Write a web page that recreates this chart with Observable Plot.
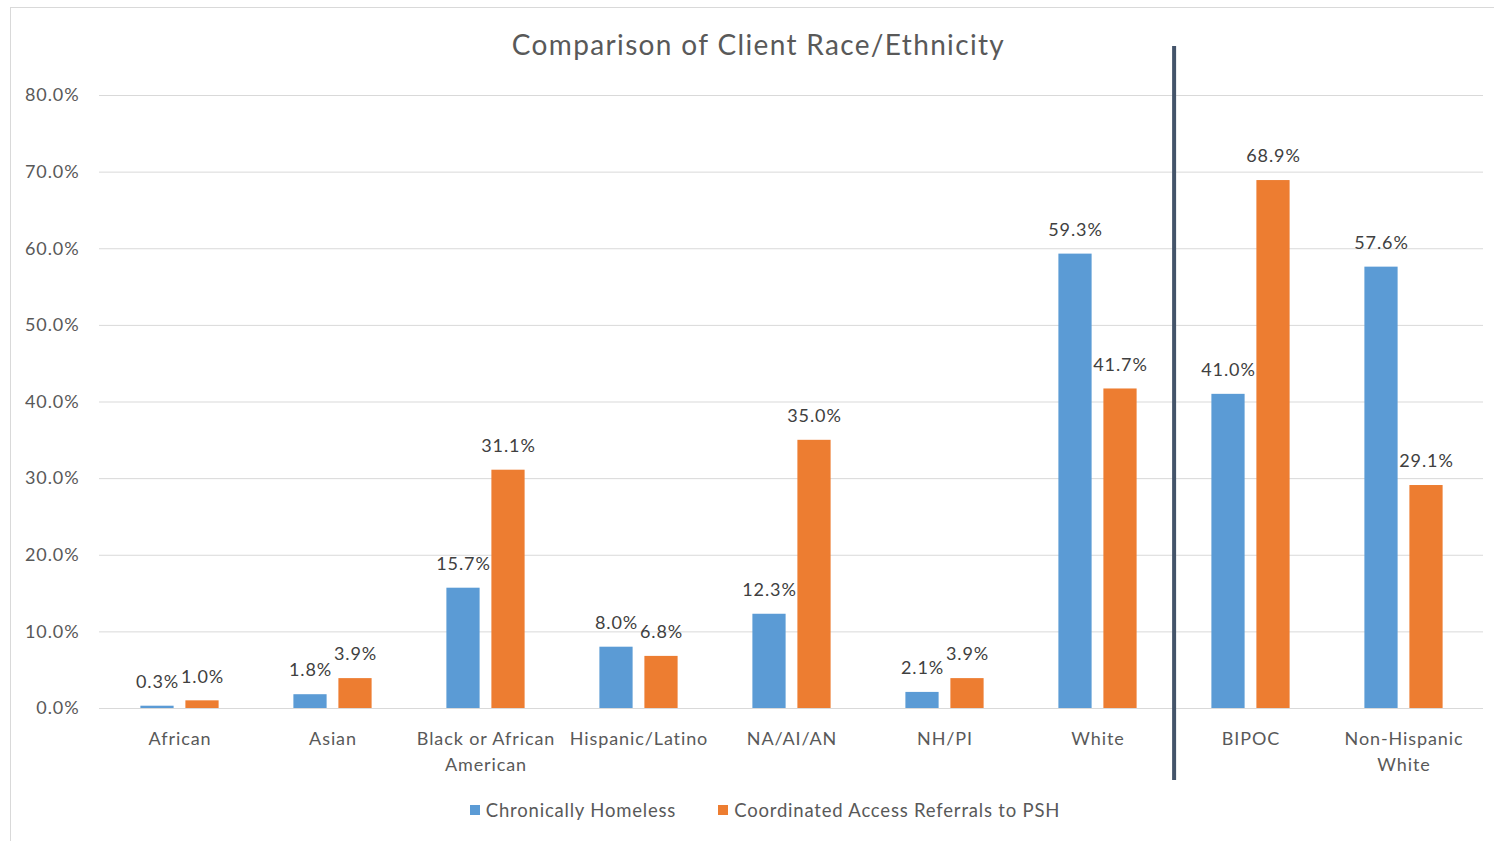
<!DOCTYPE html>
<html><head><meta charset="utf-8">
<script src="https://cdn.jsdelivr.net/npm/d3@7"></script>
<script src="https://cdn.jsdelivr.net/npm/@observablehq/plot@0.6"></script>
<style>
body{margin:0;background:#fff;font-family:Lato,sans-serif;}
#wrap{position:relative;width:1494px;height:841px;overflow:hidden;background:#fff}
#frame{position:absolute;left:10px;top:7px;width:1490px;height:840px;border:1px solid #d9d9d9;box-sizing:border-box}
#title{position:absolute;top:27px;left:0;width:1517px;text-align:center;font-size:28px;letter-spacing:1.35px;color:#595959;z-index:2}
#chart{position:absolute;left:0;top:0}
#chart svg text{letter-spacing:0.9px}
#legend{position:absolute;top:799px;left:0;width:1530px;display:flex;justify-content:center;gap:42px;font-size:18.5px;letter-spacing:0.8px;color:#595959}
#legend span.sw{display:inline-block;width:10px;height:10px;margin-right:6px;vertical-align:middle;position:relative;top:-2px}
</style></head>
<body>
<div id="wrap">
  <div id="frame"></div>
  <div id="chart"></div>
  <div id="title">Comparison of Client Race/Ethnicity</div>
  <div id="legend"></div>
</div>
<script>
const categories = ["African","Asian","Black or African American","Hispanic/Latino","NA/AI/AN","NH/PI","White","BIPOC","Non-Hispanic White"];
const tickLabels = ["African","Asian","Black or African\nAmerican","Hispanic/Latino","NA/AI/AN","NH/PI","White","BIPOC","Non-Hispanic\nWhite"];
const seriesNames = ["Chronically Homeless","Coordinated Access Referrals to PSH"];
const chronicallyHomeless = [0.003,0.018,0.157,0.080,0.123,0.021,0.593,0.410,0.576];
const referralsToPSH = [0.010,0.039,0.311,0.068,0.350,0.039,0.417,0.689,0.291];
const yTicks = [0,0.1,0.2,0.3,0.4,0.5,0.6,0.7,0.8];
const separatorBefore = "BIPOC";
const colors = ["#5b9bd5","#ed7d31"];

const W = 1494, H = 790, mL = 99, mR = 11, mT = 95, mB = 82;
const step = (W - mL - mR) / categories.length;
const barW = 34, off = 22.5;
const ins = (step - barW) / 2;
const fmt = d3.format(".1%");

const dataA = categories.map((c,i)=>({cat:c, value:chronicallyHomeless[i]}));
const dataB = categories.map((c,i)=>({cat:c, value:referralsToPSH[i]}));
const labelOf = new Map(categories.map((c,i)=>[c,tickLabels[i]]));

const chart = Plot.plot({
  width: W, height: H,
  marginLeft: mL, marginRight: mR, marginTop: mT, marginBottom: mB,
  style: {fontFamily: "Lato, sans-serif", color: "#595959", background: "transparent", overflow: "visible"},
  x: {domain: categories, padding: 0},
  y: {domain: [0, 0.8]},
  marks: [
    Plot.gridY(yTicks, {stroke: "#d9d9d9", strokeOpacity: 1, strokeWidth: 1}),
    Plot.axisY(yTicks, {tickSize: 0, tickPadding: 20, tickFormat: fmt, fontSize: 18, fill: "#595959", label: null}),
    Plot.axisX({tickSize: 0, tickPadding: 19, tickFormat: d => labelOf.get(d), fontSize: 18, lineHeight: 1.4, fill: "#595959", label: null}),
    Plot.barY(dataA, {x: "cat", y: "value", fill: colors[0], dx: -off, insetLeft: ins, insetRight: ins}),
    Plot.barY(dataB, {x: "cat", y: "value", fill: colors[1], dx: off, insetLeft: ins, insetRight: ins}),
    Plot.text(dataA, {x: "cat", y: "value", text: d => fmt(d.value), dx: -off, dy: -24, fontSize: 18, fill: "#404040"}),
    Plot.text(dataB, {x: "cat", y: "value", text: d => fmt(d.value), dx: off, dy: -24, fontSize: 18, fill: "#404040"}),
    Plot.ruleX([separatorBefore], {x: d => d, dx: -step/2, stroke: "#44546a", strokeWidth: 4, insetTop: -49, insetBottom: -72})
  ]
});
document.getElementById("chart").appendChild(chart);

const legend = document.getElementById("legend");
seriesNames.forEach((s,i)=>{
  const item = document.createElement("div");
  item.innerHTML = `<span class="sw" style="background:${colors[i]}"></span>${s}`;
  legend.appendChild(item);
});
</script>
</body></html>
